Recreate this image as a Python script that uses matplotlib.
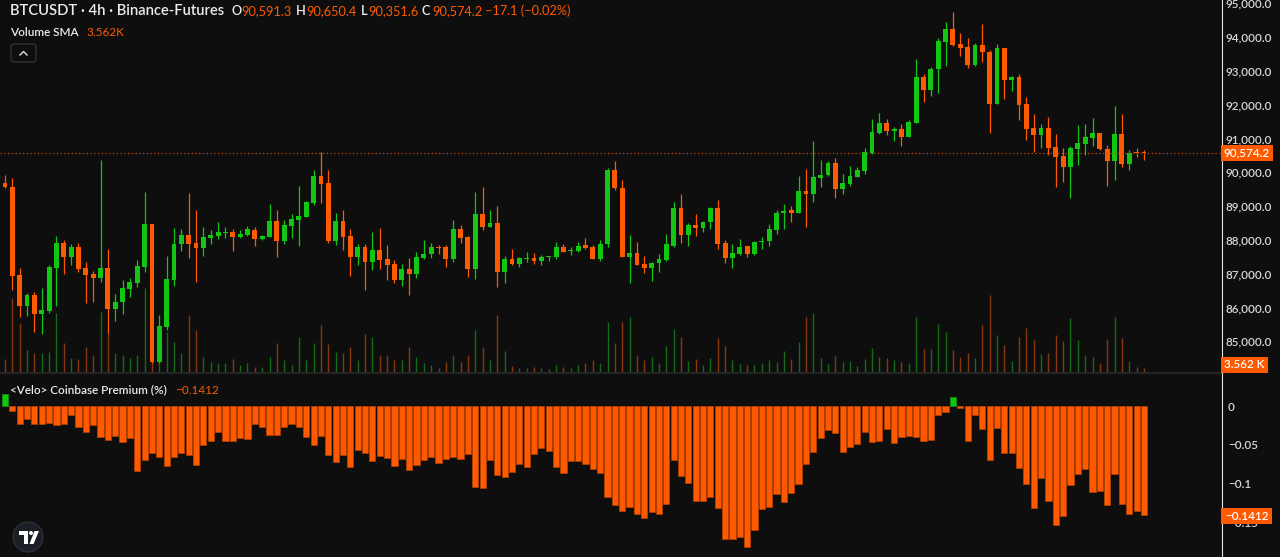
import matplotlib
matplotlib.use("Agg")
import matplotlib.pyplot as plt
from matplotlib.patches import Rectangle, FancyBboxPatch, Circle, Polygon
from matplotlib.lines import Line2D
import numpy as np

plt.rcParams['font.family'] = ['Lato', 'DejaVu Sans']

# ---- data (BTCUSDT 4h, Binance futures) ----
opens = [89689, 89571, 86957, 86050, 86365, 85804, 85900, 87155, 87914, 87480,
         87796, 87155, 86987, 86878, 87155, 85942, 86149, 86543, 86730, 87204,
         88466, 84393, 85429, 86809, 87865, 88141, 87894, 87766, 88062, 88111,
         88190, 88230, 88092, 88141, 88289, 88013, 88092, 88555, 87973, 88417,
         88585, 88683, 89078, 89887, 89670, 87973, 88555, 88111, 87480, 87796,
         87352, 87697, 87431, 87283, 86809, 87125, 86977, 87450, 87569, 87786,
         87786, 87431, 88328, 88092, 87135, 88762, 88388, 88486, 87056, 87431,
         87273, 87431, 87470, 87381, 87480, 87500, 87796, 87658, 87658, 87835,
         87776, 87431, 87875, 90064, 89541, 87480, 87618, 87283, 87156, 87303,
         87402, 87826, 88950, 88142, 88438, 88359, 88517, 88950, 87895, 87471,
         87570, 87816, 87570, 87944, 87974, 88290, 88783, 88881, 88783, 89444,
         89345, 89828, 89907, 90262, 89493, 89651, 89868, 90045, 90558, 91150,
         91446, 91219, 91268, 91051, 91465, 92807, 92432, 93043, 93842, 94227,
         93793, 93714, 93172, 93764, 93566, 92018, 93685, 92728, 92827, 92018,
         91298, 91100, 91317, 90755, 90479, 90164, 90696, 90834, 91022, 91150,
         90686, 90341, 91130, 90242, 90588, 90591.3]
highs = [89916, 89818, 87155, 86415, 86464, 86563, 87253, 88111, 87993, 87875,
         87894, 87352, 87086, 90360, 87717, 86395, 86809, 86859, 87401, 89423,
         88480, 85774, 87520, 88358, 88328, 89374, 88881, 88388, 88289, 88535,
         88388, 88309, 88289, 88407, 88368, 88141, 89048, 88881, 88585, 88762,
         89591, 89157, 90064, 90607, 90064, 88782, 88881, 88309, 87875, 87875,
         88240, 88338, 87845, 87401, 87283, 87450, 87648, 87993, 87914, 87845,
         87845, 88585, 88427, 88111, 89403, 89551, 88881, 88999, 87520, 87717,
         87480, 87648, 87599, 87549, 87520, 87944, 87875, 87776, 87934, 88042,
         87845, 87993, 90114, 90340, 89769, 88141, 87944, 87520, 87353, 87580,
         88171, 89128, 89355, 88507, 88763, 88566, 88980, 89177, 87994, 87866,
         88023, 87816, 87954, 88073, 88467, 88881, 89059, 89010, 89888, 90104,
         90923, 90351, 90331, 90430, 89937, 90183, 90163, 90706, 91564, 91762,
         91564, 91347, 91426, 91545, 93349, 92905, 93122, 93961, 94454, 94750,
         94109, 93961, 93833, 94385, 93616, 93793, 93685, 92846, 92905, 92215,
         91722, 91426, 91643, 91130, 90706, 90775, 91396, 91426, 91594, 91170,
         90805, 91968, 91722, 90657, 90706, 90650.4]
lows = [89522, 86514, 85725, 85744, 85281, 85212, 85823, 86040, 86987, 87253,
        87056, 86119, 86168, 86760, 85231, 85606, 85804, 86316, 86612, 87056,
        84344, 84344, 85330, 86632, 87677, 87450, 86760, 87520, 87875, 88013,
        88042, 87668, 88042, 88111, 87816, 87993, 88072, 87500, 87875, 88042,
        87816, 88664, 89029, 89078, 87894, 87845, 87697, 86928, 87253, 86514,
        87105, 87125, 86809, 86730, 86632, 86365, 86859, 87421, 87450, 87579,
        87184, 87352, 87914, 86888, 86829, 88289, 88368, 86592, 86730, 87253,
        87184, 87352, 87283, 87243, 87381, 87421, 87638, 87549, 87638, 87717,
        87421, 87372, 87776, 89472, 87480, 86730, 87253, 87027, 86781, 87057,
        87382, 87777, 87895, 87816, 88112, 88240, 88319, 87718, 87323, 87156,
        87560, 87481, 87560, 87727, 87816, 88171, 88309, 88517, 88783, 88388,
        89128, 89572, 89897, 89227, 89355, 89592, 89858, 89946, 90538, 91130,
        91101, 90933, 90775, 91032, 91465, 92087, 92264, 92353, 93152, 93744,
        93448, 93073, 93142, 93251, 91170, 92018, 92166, 92412, 91544, 90953,
        90607, 90706, 90509, 89572, 89720, 89227, 90213, 90509, 90775, 90657,
        89601, 89769, 90144, 90065, 90459, 90351.6]
closes = [89551, 86938, 86050, 86365, 85804, 85922, 87184, 87914, 87480, 87796,
          87125, 86957, 86878, 87155, 85942, 86168, 86563, 86760, 87224, 88466,
          84393, 85448, 86829, 87875, 88141, 87865, 87766, 88072, 88141, 88220,
          88240, 88092, 88161, 88309, 88013, 88111, 88555, 87973, 88437, 88605,
          88703, 89127, 89887, 89640, 87973, 88555, 88092, 87480, 87796, 87352,
          87697, 87401, 87253, 86809, 87125, 86977, 87480, 87579, 87776, 87746,
          87431, 88328, 88062, 87135, 88762, 88388, 88486, 87056, 87431, 87273,
          87450, 87460, 87381, 87480, 87500, 87796, 87648, 87677, 87825, 87756,
          87431, 87875, 90064, 89522, 87480, 87618, 87253, 87155, 87323, 87422,
          87866, 88950, 88142, 88438, 88359, 88536, 88950, 87866, 87471, 87599,
          87796, 87570, 87944, 87974, 88319, 88783, 88862, 88783, 89444, 89345,
          89848, 89917, 90262, 89493, 89670, 89888, 90065, 90588, 91180, 91446,
          91219, 91268, 91051, 91475, 92807, 92432, 93053, 93882, 94227, 93764,
          93685, 93172, 93764, 93546, 92018, 93685, 92728, 92827, 91988, 91268,
          91100, 91317, 90726, 90459, 90164, 90726, 90854, 91051, 91150, 90677,
          90341, 91130, 90242, 90578, 90558, 90574.2]
volume_k = [13, 74, 49, 22, 19, 19, 20, 59, 29, 14,
            13, 25, 17, 60, 39, 19, 17, 14, 17, 84,
            70, 45, 40, 30, 19, 57, 42, 15, 10, 9,
            9, 13, 7, 9, 5, 5, 15, 29, 12, 7,
            35, 12, 29, 47, 28, 20, 19, 25, 12, 38,
            35, 17, 17, 12, 12, 25, 15, 9, 7, 4,
            10, 17, 10, 17, 42, 25, 12, 57, 21, 6,
            4, 4, 5, 4, 3, 7, 5, 4, 7, 9,
            12, 9, 50, 29, 50, 55, 17, 12, 15, 9,
            26, 43, 35, 11, 13, 7, 14, 34, 26, 12,
            8, 7, 7, 9, 12, 10, 21, 13, 30, 55,
            59, 14, 8, 16, 10, 11, 6, 13, 24, 15,
            14, 12, 10, 9, 55, 23, 23, 48, 40, 22,
            15, 19, 14, 47, 77, 37, 27, 11, 35, 44,
            32, 18, 19, 37, 31, 54, 32, 17, 15, 9,
            33, 55, 34, 11, 5, 3.562]
premium = [0.016, -0.0064, -0.0235, -0.0171, -0.0235, -0.0226, -0.0218, -0.0247, -0.0235, -0.0115,
           -0.0277, -0.0329, -0.0247, -0.0405, -0.0444, -0.0392, -0.0469, -0.041, -0.0836, -0.0695,
           -0.0602, -0.0657, -0.0772, -0.0657, -0.0602, -0.0631, -0.0764, -0.0508, -0.0456, -0.0341,
           -0.0448, -0.0456, -0.041, -0.0427, -0.023, -0.0277, -0.0371, -0.038, -0.0269, -0.0226,
           -0.0269, -0.0405, -0.0508, -0.0384, -0.0636, -0.0721, -0.0636, -0.0785, -0.0563, -0.061,
           -0.0708, -0.0644, -0.0666, -0.0776, -0.0683, -0.0823, -0.0759, -0.0695, -0.0653, -0.073,
           -0.0683, -0.0657, -0.0678, -0.0614, -0.1045, -0.1058, -0.0695, -0.0892, -0.0913, -0.0845,
           -0.0742, -0.0785, -0.0614, -0.0538, -0.0576, -0.0789, -0.0858, -0.0712, -0.0708, -0.0751,
           -0.0811, -0.0858, -0.1169, -0.128, -0.1352, -0.1297, -0.1399, -0.1446, -0.1365, -0.1387,
           -0.1267, -0.0695, -0.0904, -0.099, -0.1224, -0.1224, -0.1177, -0.1318, -0.1719, -0.1711,
           -0.1694, -0.1822, -0.16, -0.1327, -0.1297, -0.1131, -0.1237, -0.1118, -0.1011, -0.0742,
           -0.0589, -0.0414, -0.0307, -0.0354, -0.0589, -0.0529, -0.0486, -0.0329, -0.0469, -0.0448,
           -0.0294, -0.0482, -0.0401, -0.0392, -0.0401, -0.0456, -0.0435, -0.0119, -0.0081, 0.0115,
           -0.0021, -0.0456, -0.0119, -0.0299, -0.0695, -0.0286, -0.0602, -0.061, -0.0802, -0.1003,
           -0.1318, -0.093, -0.122, -0.154, -0.1421, -0.1015, -0.0883, -0.0811, -0.1109, -0.1096,
           -0.1271, -0.0883, -0.1259, -0.1387, -0.1352, -0.1412]
price_ticks = [85000, 86000, 87000, 88000, 89000, 90000, 91000, 92000, 93000, 94000, 95000]
premium_ticks = [0, -0.05, -0.1, -0.15]
premium_ticklabels = ['0', '\u22120.05', '\u22120.1', '\u22120.15']

BG = '#0e0e0e'
GREEN = '#13c613'
ORANGE = '#ff5a00'
VGREEN = '#176a17'
VORANGE = '#86380f'
TXT = '#d8d8d8'
W, H = 1280, 557

o = np.array(opens); hi = np.array(highs); lo = np.array(lows); c = np.array(closes)
x = np.arange(len(o))
up = c >= o
cols = np.where(up, GREEN, ORANGE)
vcols = np.where(up, VGREEN, VORANGE)

fig = plt.figure(figsize=(12.8, 5.57), dpi=100, facecolor=BG)
def fx(v): return v / W
def fy(v): return 1 - v / H

xlim = (-5 / 7.348, (1221 - 5) / 7.348)

# volume underlay
axv = fig.add_axes([0, fy(372), fx(1221), 372 / H])
axv.set_facecolor(BG)
axv.vlines(x, 0, volume_k, colors=vcols, linewidth=1.0)
axv.set_xlim(*xlim)
axv.set_ylim(0, 372)
axv.axis('off')
axv.set_zorder(1)

# candles
ax = fig.add_axes([0, fy(372), fx(1221), 372 / H])
ax.set_facecolor('none')
ax.set_zorder(2)
ax.vlines(x, lo, hi, colors=cols, linewidth=0.9)
body_bot = np.minimum(o, c)
body_h = np.maximum(np.abs(c - o), 28)
ax.bar(x, body_h, bottom=body_bot, width=0.66, color=cols, linewidth=0)
ax.axhline(closes[-1], color='#c8480c', linewidth=0.9, linestyle=(0, (1, 2)))
ax.set_xlim(*xlim)
ax.set_ylim(84089, 95095)
ax.set_xticks([])
ax.set_yticks(price_ticks)
ax.set_yticklabels([f'{v:,.1f}' for v in price_ticks])
ax.yaxis.tick_right()
ax.tick_params(axis='y', length=0, pad=36.5, labelsize=8.4, labelcolor=TXT)
for lbl in ax.get_yticklabels():
    lbl.set_ha('right')
    lbl.set_fontweight('semibold')
for s in ax.spines.values():
    s.set_visible(False)

# coinbase premium
axp = fig.add_axes([0, 0, fx(1221), (H - 374) / H])
axp.set_facecolor(BG)
pcols = ['#13c613' if v > 0 else ORANGE for v in premium]
pedge = ['#0e9a0e' if v > 0 else '#b84000' for v in premium]
axp.bar(x, premium, width=0.84, color=pcols, edgecolor=pedge, linewidth=0.5)
axp.set_xlim(*xlim)
axp.set_ylim(-0.1948, 0.0413)
axp.set_xticks([])
axp.set_yticks(premium_ticks)
axp.set_yticklabels(premium_ticklabels)
axp.yaxis.tick_right()
axp.tick_params(axis='y', length=0, pad=5, labelsize=8.4, labelcolor=TXT)
for lbl in axp.get_yticklabels():
    lbl.set_fontweight('semibold')
for s in axp.spines.values():
    s.set_visible(False)

# separators
fig.add_artist(Line2D([0, fx(1221)], [fy(373), fy(373)], color='#2a2a2a', lw=1.2))
fig.add_artist(Line2D([fx(1221.5), fx(1221.5)], [0, 1], color='#e4e4e4', lw=0.8))

IN = fig.dpi_scale_trans
def pin(px, py): return (px / 100, (H - py) / 100)

# value boxes on the right scale
def value_box(ycen, text, x1):
    x0 = 1221
    fig.add_artist(Rectangle(pin(x0, ycen + 8), (x1 - x0) / 100, 16 / 100,
                             transform=IN, facecolor=ORANGE, edgecolor='none', zorder=20))
    fig.text(fx((x0 + x1) / 2), fy(ycen), text, color='white', fontsize=8.4,
             fontweight='semibold', ha='center', va='center', zorder=21)

value_box(153, f'{closes[-1]:,.1f}', 1273)
value_box(365, f'{volume_k[-1]:.3f} K', 1268)
value_box(516, f'\u2212{abs(premium[-1]):.4f}', 1272)

# header
fig.text(fx(10), fy(11), 'BTCUSDT \u00b7 4h \u00b7 Binance-Futures', color='#ececec',
         fontsize=10.6, fontweight='semibold', ha='left', va='center')
ohlc = [('O', opens[-1], 231, 241), ('H', highs[-1], 296, 306),
        ('L', lows[-1], 361, 368), ('C', closes[-1], 422, 432)]
for k, v, xk, xv in ohlc:
    fig.text(fx(xk), fy(11), k, color='#ececec', fontsize=9.2, fontweight='semibold',
             ha='left', va='center')
    fig.text(fx(xv), fy(11), f'{v:,.1f}', color=ORANGE, fontsize=9.2, ha='left', va='center')
chg = closes[-1] - opens[-1]
fig.text(fx(485), fy(11), f'\u2212{abs(chg):.1f} (\u2212{abs(chg) / opens[-1] * 100:.2f}%)',
         color=ORANGE, fontsize=9.2, ha='left', va='center')
fig.text(fx(10), fy(32), 'Volume SMA', color='#ececec', fontsize=8.5, fontweight='semibold',
         ha='left', va='center')
fig.text(fx(86), fy(32), f'{volume_k[-1]:.3f}K', color=ORANGE, fontsize=8.5, ha='left', va='center')
fig.text(fx(10), fy(390), '<Velo> Coinbase Premium (%)', color='#ececec', fontsize=8.5,
         fontweight='semibold', ha='left', va='center')
fig.text(fx(175), fy(390), f'\u2212{abs(premium[-1]):.4f}', color=ORANGE, fontsize=8.5,
         ha='left', va='center')

# collapse button
fig.add_artist(FancyBboxPatch(pin(11, 62), 25 / 100, 18 / 100, boxstyle='round,pad=0,rounding_size=0.03',
                              transform=IN, facecolor=BG, edgecolor='#3a3a3a', lw=0.8))
fig.add_artist(Line2D([20 / 100, 23.5 / 100, 27 / 100],
                      [(H - 55) / 100, (H - 51.5) / 100, (H - 55) / 100],
                      transform=IN, color='#e0e0e0', lw=1.0))

# tradingview logo
fig.add_artist(Circle(pin(28, 537), 15 / 100, transform=IN, facecolor='#1c1e25',
                      edgecolor='#30333d', lw=0.8))
fig.add_artist(Polygon([pin(19, 531), pin(28, 531), pin(28, 544), pin(24, 544), pin(24, 535), pin(19, 535)],
                       closed=True, transform=IN, facecolor='white', edgecolor='none'))
fig.add_artist(Circle(pin(31, 533), 2 / 100, transform=IN, facecolor='white', edgecolor='none'))
fig.add_artist(Polygon([pin(34.5, 531), pin(39, 531), pin(33.5, 544), pin(29.5, 544)],
                       closed=True, transform=IN, facecolor='white', edgecolor='none'))

fig.savefig('out.png', dpi=100, facecolor=BG)
